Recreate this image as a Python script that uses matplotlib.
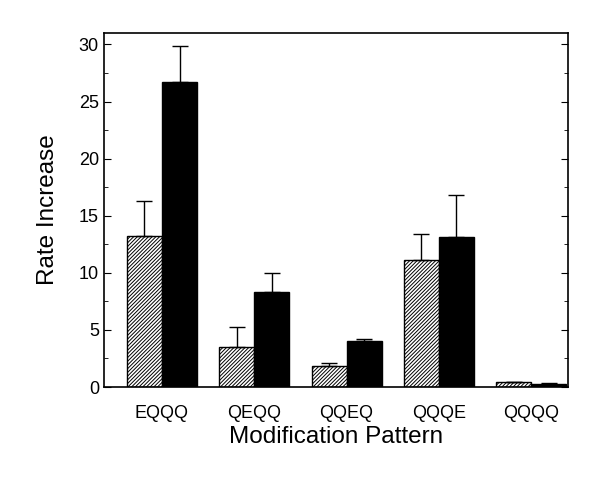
import numpy as np
import matplotlib.pyplot as plt
from matplotlib.ticker import MultipleLocator

plt.rcParams['font.family'] = ['Liberation Sans', 'DejaVu Sans']
plt.rcParams['hatch.linewidth'] = 0.7

patterns = ['EQQQ', 'QEQQ', 'QQEQ', 'QQQE', 'QQQQ']
hatched_vals = [13.2, 3.5, 1.8, 11.1, 0.41]
hatched_err = [3.1, 1.8, 0.3, 2.3, 0.05]
solid_vals = [26.75, 8.35, 4.0, 13.1, 0.28]
solid_err = [3.1, 1.6, 0.2, 3.75, 0.03]

x = np.arange(1, len(patterns) + 1)
w = 0.38

fig = plt.figure(figsize=(6, 4.79), dpi=100)
ax = fig.add_axes([0.173, 0.192, 0.774, 0.739])

ax.bar(x - w / 2, hatched_vals, w, color='white', edgecolor='black',
       hatch='/////////', lw=1.0,
       yerr=[np.zeros(len(x)), hatched_err], capsize=6,
       error_kw=dict(elinewidth=1.0, capthick=1.0, ecolor='black'))
ax.bar(x + w / 2, solid_vals, w, color='black', edgecolor='black', lw=1.0,
       yerr=[np.zeros(len(x)), solid_err], capsize=6,
       error_kw=dict(elinewidth=1.0, capthick=1.0, ecolor='black'))

ax.set_xlim(0.37, 5.40)
ax.set_ylim(0, 31)
ax.set_xticks(x)
ax.set_xticklabels(patterns, fontsize=13)
ax.yaxis.set_major_locator(MultipleLocator(5))
ax.yaxis.set_minor_locator(MultipleLocator(2.5))
ax.tick_params(axis='y', which='both', direction='in', right=True,
               labelsize=13)
ax.tick_params(axis='y', which='major', length=5)
ax.tick_params(axis='y', which='minor', length=3)
ax.tick_params(axis='x', length=0, pad=13)

for s in ax.spines.values():
    s.set_linewidth(1.2)

ax.set_ylabel('Rate Increase', fontsize=17.5, labelpad=14)
ax.set_xlabel('Modification Pattern', fontsize=17.5, labelpad=3)

plt.savefig('out.png', dpi=100)
